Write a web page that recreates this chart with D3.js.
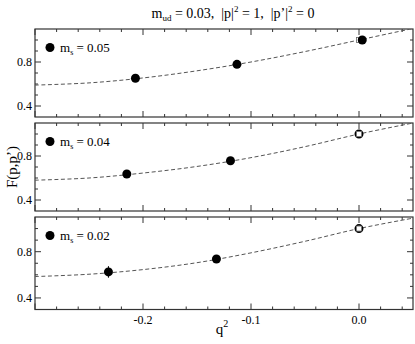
<!DOCTYPE html>
<html lang="en">
<head>
<meta charset="utf-8">
<title>F(p,p') vs q2</title>
<script src="https://cdnjs.cloudflare.com/ajax/libs/d3/7.8.5/d3.min.js"></script>
<style>
  html, body { margin: 0; padding: 0; background: #fff; overflow: hidden; }
  svg text { white-space: pre; }
</style>
</head>
<body>
<div id="chart"></div>
<script>
// ---- data ----
var panelLabels = ["0.05", "0.04", "0.02"];          // m_s values

// lattice points (q^2, F) per panel
var q2_05 = [-0.207, -0.113, 0.003];
var F_05  = [0.652, 0.779, 1.0];
var q2_04 = [-0.215, -0.119, 0.0];
var F_04  = [0.636, 0.757, 1.0];
var q2_02 = [-0.232, -0.132, 0.0];
var F_02  = [0.625, 0.737, 1.0];
var err_05 = [0, 0, 0];
var err_04 = [0, 0, 0];
var err_02 = [0.05, 0, 0];
// whether the point at q^2 ~ 0 is drawn open
var openLast = [false, true, true];

// dashed fit curves, read at a few q^2 values
var fitQ2  = [-0.3, -0.25, -0.2, -0.15, -0.1, -0.05, 0.0, 0.05];
var fit_05 = [0.59, 0.61, 0.655, 0.72, 0.80, 0.895, 1.0, 1.105];
var fit_04 = [0.58, 0.60, 0.645, 0.705, 0.785, 0.885, 1.0, 1.10];
var fit_02 = [0.585, 0.605, 0.645, 0.705, 0.79, 0.89, 1.0, 1.09];

// normalisation point F(0) = 1 (open square)
var normQ2 = 0.0, normF = 1.0;

var xMajor = [-0.3, -0.2, -0.1, 0.0];
var xLabels = ["-0.2", "-0.1", "0.0"];
var yMajor = [0.4, 0.8];
var yMinor = [0.5, 0.6, 0.7, 0.9, 1.0];

var panels = [
  {q2: q2_05, F: F_05, err: err_05, fit: fit_05},
  {q2: q2_04, F: F_04, err: err_04, fit: fit_04},
  {q2: q2_02, F: F_02, err: err_02, fit: fit_02}
];

// ---- layout ----
var W = 415, H = 344;
var left = 35, right = 413;
var boxes = [[29, 117], [123, 211], [217, 309.5]];
var axisCol = "#333";
var serif = "'Liberation Serif', 'DejaVu Serif', serif";

var svg = d3.select("#chart").append("svg")
    .attr("width", W).attr("height", H)
    .attr("font-family", serif);

var x = d3.scaleLinear().domain([-0.3, 0.05]).range([left, right]);

var xMinor = d3.range(-0.28, 0.05, 0.02).filter(function(v){
  return !xMajor.some(function(m){ return Math.abs(m - v) < 1e-6; });
});

svg.append("defs").selectAll("clipPath")
  .data(boxes).enter().append("clipPath")
  .attr("id", function(d, i){ return "clip" + i; })
  .append("rect")
  .attr("x", left).attr("y", function(d){ return d[0]; })
  .attr("width", right - left).attr("height", function(d){ return d[1] - d[0]; });

panels.forEach(function(p, i){
  var top = boxes[i][0], bot = boxes[i][1];
  var y = d3.scaleLinear().domain([0.3, 1.1]).range([bot, top]);
  var g = svg.append("g");

  // frame
  g.append("rect")
    .attr("x", left).attr("y", top)
    .attr("width", right - left).attr("height", bot - top)
    .attr("fill", "none").attr("stroke", axisCol).attr("stroke-width", 1.2);

  // x ticks, bottom and top, pointing inward
  function xt(vals, len){
    vals.forEach(function(v){
      g.append("line").attr("x1", x(v)).attr("x2", x(v))
        .attr("y1", bot).attr("y2", bot - len)
        .attr("stroke", axisCol).attr("stroke-width", 1);
      g.append("line").attr("x1", x(v)).attr("x2", x(v))
        .attr("y1", top).attr("y2", top + len)
        .attr("stroke", axisCol).attr("stroke-width", 1);
    });
  }
  xt(xMajor, 6);
  xt(xMinor, 3);

  // y ticks, left and right
  function yt(vals, len){
    vals.forEach(function(v){
      g.append("line").attr("x1", left).attr("x2", left + len)
        .attr("y1", y(v)).attr("y2", y(v))
        .attr("stroke", axisCol).attr("stroke-width", 1);
      g.append("line").attr("x1", right).attr("x2", right - len)
        .attr("y1", y(v)).attr("y2", y(v))
        .attr("stroke", axisCol).attr("stroke-width", 1);
    });
  }
  yt(yMajor, 6);
  yt(yMinor, 3);

  g.selectAll(".ylab").data(yMajor).enter().append("text")
    .attr("x", left - 3).attr("y", function(d){ return y(d) + 4; })
    .attr("text-anchor", "end").attr("font-size", 12)
    .text(function(d){ return d3.format(".1f")(d); });

  // fit curve
  var line = d3.line()
    .x(function(d){ return x(d[0]); })
    .y(function(d){ return y(d[1]); })
    .curve(d3.curveCatmullRom);
  g.append("path")
    .datum(fitQ2.map(function(q, k){ return [q, p.fit[k]]; }))
    .attr("d", line)
    .attr("clip-path", "url(#clip" + i + ")")
    .attr("fill", "none").attr("stroke", "#555")
    .attr("stroke-width", 1).attr("stroke-dasharray", "4,2.5");

  // error bars
  p.q2.forEach(function(q, k){
    if (p.err[k] > 0) {
      g.append("line").attr("x1", x(q)).attr("x2", x(q))
        .attr("y1", y(p.F[k] - p.err[k])).attr("y2", y(p.F[k] + p.err[k]))
        .attr("stroke", "#000").attr("stroke-width", 1);
    }
  });

  var last = p.q2.length - 1;
  // open-circle point at q^2 = 0 (panels 2,3)
  if (openLast[i]) {
    g.append("circle").attr("cx", x(p.q2[last])).attr("cy", y(p.F[last]))
      .attr("r", 3.6).attr("fill", "#fff").attr("stroke", "#000").attr("stroke-width", 1.8);
  }
  // normalisation square
  g.append("rect")
    .attr("x", x(normQ2) - 2.5).attr("y", y(normF) - 2.5)
    .attr("width", 5).attr("height", 5)
    .attr("fill", "#fff").attr("stroke", "#666").attr("stroke-width", 0.8);

  // filled points
  p.q2.forEach(function(q, k){
    if (k == last && openLast[i]) return;
    g.append("circle").attr("cx", x(q)).attr("cy", y(p.F[k]))
      .attr("r", 4.5).attr("fill", "#000");
  });

  // legend
  var ly = top + 18.5;
  g.append("circle").attr("cx", 50).attr("cy", ly).attr("r", 4.5).attr("fill", "#000");
  var t = g.append("text").attr("x", 60).attr("y", ly + 4).attr("font-size", 13);
  t.append("tspan").text("m");
  t.append("tspan").attr("dy", 3).attr("font-size", 8).text("s");
  t.append("tspan").attr("dy", -3).text(" = " + panelLabels[i]);

  if (i == panels.length - 1) {
    g.selectAll(".xlab").data(xLabels).enter().append("text")
      .attr("x", function(d){ return x(+d); }).attr("y", bot + 14)
      .attr("text-anchor", "middle").attr("font-size", 12)
      .text(function(d){ return d; });
  }
});

// title
var title = svg.append("text").attr("x", 233).attr("y", 18)
  .attr("text-anchor", "middle").attr("font-size", 14);
title.append("tspan").text("m");
title.append("tspan").attr("dy", 3).attr("font-size", 9).text("ud");
title.append("tspan").attr("dy", -3).text(" = 0.03,  |p|");
title.append("tspan").attr("dy", -6).attr("font-size", 9).text("2");
title.append("tspan").attr("dy", 6).text(" = 1,  |p’|");
title.append("tspan").attr("dy", -6).attr("font-size", 9).text("2");
title.append("tspan").attr("dy", 6).text(" = 0");

// axis titles
var xt = svg.append("text").attr("x", 222).attr("y", 334)
  .attr("text-anchor", "middle").attr("font-size", 15);
xt.append("tspan").text("q");
xt.append("tspan").attr("dy", -7).attr("font-size", 10).text("2");

svg.append("text")
  .attr("transform", "translate(17,167) rotate(-90)")
  .attr("text-anchor", "middle").attr("font-size", 15)
  .text("F(p,p’)");
</script>
</body>
</html>
